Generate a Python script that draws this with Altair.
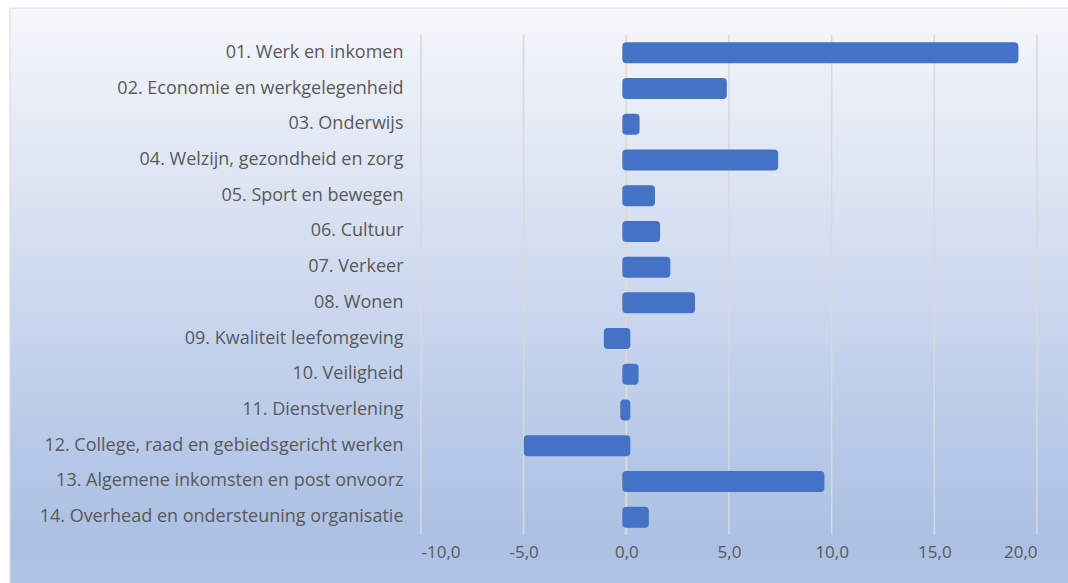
import altair as alt
import pandas as pd

categories = [
    "01. Werk en inkomen",
    "02. Economie en werkgelegenheid",
    "03. Onderwijs",
    "04. Welzijn, gezondheid en zorg",
    "05. Sport en bewegen",
    "06. Cultuur",
    "07. Verkeer",
    "08. Wonen",
    "09. Kwaliteit leefomgeving",
    "10. Veiligheid",
    "11. Dienstverlening",
    "12. College, raad en gebiedsgericht werken",
    "13. Algemene inkomsten en post onvoorz",
    "14. Overhead en ondersteuning organisatie",
]
values = [18.9, 4.7, 0.45, 7.2, 1.2, 1.45, 1.95, 3.15, -0.9, 0.4, -0.1, -4.8, 9.45, 0.9]
tick_values = [-10, -5, 0, 5, 10, 15, 20]

df = pd.DataFrame({"cat": categories, "val": values})
ticks_df = pd.DataFrame({"t": tick_values})

W, H = 616, 500
xscale = alt.Scale(domain=[-10, 20], nice=False, zero=False)

bg = alt.Chart(alt.Data(values=[{}])).mark_rect(
    color=alt.Gradient(
        gradient="linear",
        stops=[
            alt.GradientStop(color="#f5f7fb", offset=0),
            alt.GradientStop(color="#dbe3f2", offset=0.3),
            alt.GradientStop(color="#bfcfeb", offset=0.6),
            alt.GradientStop(color="#abc0e3", offset=0.85),
            alt.GradientStop(color="#b9cae8", offset=1),
        ],
        x1=0, y1=0, x2=0, y2=1,
    ),
    stroke="#d9d9d9",
    strokeWidth=1,
).encode(
    x=alt.value(-411), x2=alt.value(700), y=alt.value(-27), y2=alt.value(600)
)

grid = alt.Chart(ticks_df).mark_rule(color="#d9d9d9", strokeWidth=1.5).encode(
    x=alt.X("t:Q", scale=xscale),
    y=alt.value(0),
    y2=alt.value(H),
)

zero = alt.Chart(pd.DataFrame({"t": [0]})).mark_rule(color="#e8dcbc", strokeWidth=1.5).encode(
    x=alt.X("t:Q", scale=xscale),
    y=alt.value(0),
    y2=alt.value(H),
)

bars = alt.Chart(df).mark_bar(
    color="#4472c4",
    stroke="#4472c4",
    strokeWidth=8,
    strokeJoin="round",
    size=13,
).encode(
    x=alt.X(
        "val:Q",
        scale=xscale,
        axis=alt.Axis(
            values=tick_values,
            title=None,
            grid=False,
            domain=False,
            ticks=False,
            labelPadding=9,
            labelFont="Open Sans",
            labelFontSize=17,
            labelColor="#595959",
            labelExpr="replace(replace(format(datum.value, '.1f'), '.', ','), '\u2212', '-')",
            zindex=2,
        ),
    ),
    y=alt.Y(
        "cat:N",
        sort=categories,
        title=None,
        scale=alt.Scale(paddingInner=0.4, paddingOuter=0.2),
        axis=alt.Axis(
            domain=False,
            ticks=False,
            grid=False,
            labelPadding=18,
            labelFont="Open Sans",
            labelFontSize=18,
            labelColor="#595959",
            labelLimit=500,
            zindex=2,
        ),
    ),
)

chart = alt.layer(bg, grid, zero, bars).properties(
    width=W,
    height=H,
    autosize=alt.AutoSizeParams(type="none"),
    padding={"left": 421, "top": 35, "right": 31, "bottom": 48},
    background="white",
).configure_view(stroke=None)

chart.save("out.html", embed_options={"renderer": "svg", "actions": False})
